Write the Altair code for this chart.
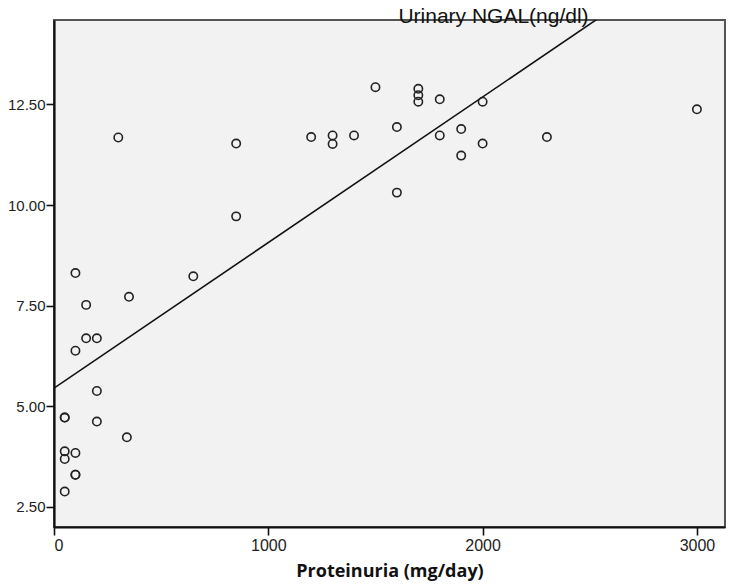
import altair as alt
import pandas as pd

# Scatter data
proteinuria = [50, 50, 50, 50, 50,
               100, 100, 100, 100, 100,
               150, 150,
               200, 200, 200,
               300, 340, 350, 650,
               850, 850,
               1200, 1300, 1300, 1400, 1500,
               1600, 1600,
               1700, 1700, 1700,
               1800, 1800,
               1900, 1900,
               2000, 2000,
               2300, 3000]
ngal = [4.72, 4.72, 3.88, 3.69, 2.88,
        8.31, 6.38, 3.84, 3.30, 3.30,
        7.52, 6.69,
        6.69, 5.38, 4.62,
        11.68, 4.23, 7.72, 8.23,
        11.53, 9.72,
        11.69, 11.73, 11.52, 11.73, 12.93,
        11.94, 10.31,
        12.89, 12.73, 12.57,
        12.63, 11.73,
        11.89, 11.23,
        12.57, 11.53,
        11.69, 12.38]

# Fit line end points
fit_x = [0, 3131]
fit_y = [5.45, 16.78]

x_ticks = [0, 1000, 2000, 3000]
y_ticks = [2.5, 5.0, 7.5, 10.0, 12.5]

pts = pd.DataFrame({"p": proteinuria, "n": ngal})
fit = pd.DataFrame({"p": fit_x, "n": fit_y})

xscale = alt.Scale(domain=[0, 3131], nice=False, zero=False)
yscale = alt.Scale(domain=[2.0, 14.6], nice=False, zero=False)

xaxis = alt.Axis(values=x_ticks, format="d", tickSize=8, labelFontSize=16,
                 labelPadding=2, title="Proteinuria (mg/day)", titleFont="Open Sans",
                 titleFontSize=18, titleFontWeight="bold", titleColor="#111",
                 titlePadding=9)
yaxis = alt.Axis(values=y_ticks, format=".2f", tickSize=8, labelFontSize=15,
                 labelPadding=1, title=None)

points = alt.Chart(pts).mark_point(shape="circle", filled=False, color="#222",
                                   strokeWidth=1.6, size=70, opacity=1).encode(
    x=alt.X("p:Q", scale=xscale, axis=xaxis),
    y=alt.Y("n:Q", scale=yscale, axis=yaxis),
)

line = alt.Chart(fit).mark_line(color="#111", strokeWidth=1.6, clip=True).encode(
    x=alt.X("p:Q", scale=xscale),
    y=alt.Y("n:Q", scale=yscale),
)

chart = alt.layer(line, points).properties(
    width=671,
    height=507,
    padding={"left": 46, "top": 12, "right": 1, "bottom": 56},
    autosize=alt.AutoSizeParams(type="none"),
    background="white",
    title=alt.TitleParams("Urinary NGAL(ng/dl)", fontSize=21, font="Liberation Sans",
                          fontWeight="normal", color="#111", anchor="middle",
                          frame="group", dx=104, offset=-24, baseline="alphabetic"),
).configure_view(
    fill="#f2f2f2", stroke="#555", strokeWidth=2
).configure_axis(
    domainColor="#111", domainWidth=2.2, tickColor="#111", tickWidth=1.6,
    grid=False, labelFont="Liberation Sans", labelColor="#222"
)

chart.save("out.html", embed_options={"renderer": "svg", "actions": False})
